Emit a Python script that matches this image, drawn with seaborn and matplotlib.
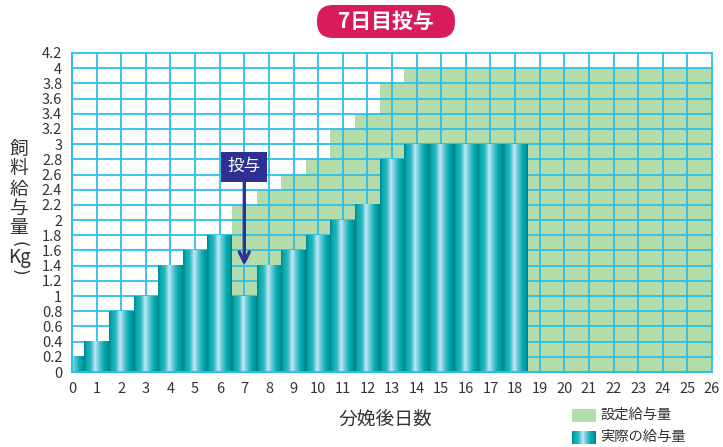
import numpy as np
import pandas as pd
import matplotlib
matplotlib.use("Agg")
import matplotlib.pyplot as plt
import matplotlib.transforms as mtransforms
from matplotlib.patches import FancyBboxPatch, Rectangle
from matplotlib.colors import LinearSegmentedColormap
import seaborn as sns

# ---------------- data ----------------
days = list(range(0, 27))
set_amount = [0.2, 0.4, 0.8, 1.0, 1.4, 1.6, 1.8, 2.2, 2.4, 2.6, 2.8, 3.2, 3.4, 3.8,
              4.0, 4.0, 4.0, 4.0, 4.0, 4.0, 4.0, 4.0, 4.0, 4.0, 4.0, 4.0, 4.0]
actual_days = list(range(0, 19))
actual_amount = [0.2, 0.4, 0.8, 1.0, 1.4, 1.6, 1.8, 1.0, 1.4, 1.6, 1.8, 2.0, 2.2, 2.8,
                 3.0, 3.0, 3.0, 3.0, 3.0]
y_ticks = [round(v * 0.2, 1) for v in range(0, 22)]
title = "7日目投与"
xlabel = "分娩後日数"
ylabel_chars = ["飼", "料", "給", "与", "量", "(", "Kg", ")"]
legend_labels = ["設定給与量", "実際の給与量"]
annot_day, annot_text, annot_value = 7, "投与", 1.4

# ---------------- style ----------------
sns.set_theme(style="white")
plt.rcParams['font.family'] = ['Noto Sans CJK JP', 'DejaVu Sans']

GRID = "#2cbfea"
GREEN = "#b4dcab"
NAVY = "#2e3192"
PINK = "#d81b5c"
TEXT = "#333333"

grad_cmap = LinearSegmentedColormap.from_list("teal", [
    (0.0, "#007f85"), (0.07, "#00a4aa"), (0.28, "#2eb9c3"), (0.45, "#c4e9f7"),
    (0.6, "#62c8d4"), (0.8, "#00abb1"), (0.94, "#00959b"), (1.0, "#007c82")])

fig = plt.figure(figsize=(7.23, 4.47), dpi=100)
ax = fig.add_axes([72 / 723, 1 - 372 / 447, 640 / 723, 319 / 447])

df_set = pd.DataFrame({"day": days, "amount": set_amount})
df_act = pd.DataFrame({"day": actual_days, "amount": actual_amount})

sns.barplot(data=df_set, x="day", y="amount", order=days, width=1.0,
            color=GREEN, saturation=1, linewidth=0, zorder=1, ax=ax)
n_set = len(ax.patches)
sns.barplot(data=df_act, x="day", y="amount", order=days, width=1.0,
            color="#00a8ae", saturation=1, linewidth=0, zorder=2, ax=ax)

grad = np.linspace(0, 1, 256).reshape(1, -1)
for rect in ax.patches[n_set:]:
    h = rect.get_height()
    if not np.isfinite(h) or h <= 0:
        continue
    x0 = rect.get_x()
    w = rect.get_width()
    im = ax.imshow(grad, cmap=grad_cmap, aspect="auto", extent=[x0, x0 + w, 0, h],
                   zorder=2.1, interpolation="bilinear")
    im.set_clip_path(ax.patch)

ax.set_xlim(0, 26)
ax.set_ylim(0, 4.2)
ax.set_xticks(days)
ax.set_xticklabels([str(d) for d in days])
ax.set_yticks(y_ticks)
ax.set_yticklabels([f"{v:g}" for v in y_ticks])
ax.set_xlabel("")
ax.set_ylabel("")

ax.set_axisbelow("line")
ax.grid(True, color=GRID, linewidth=1.3)
for l in ax.get_xgridlines() + ax.get_ygridlines():
    l.set_clip_on(False)

for s in ["top", "right"]:
    ax.spines[s].set_visible(False)
for s in ["left", "bottom"]:
    ax.spines[s].set_color(GRID)
    ax.spines[s].set_linewidth(1.3)
    ax.spines[s].set_zorder(3)
ax.tick_params(axis="both", colors=GRID, length=5, width=1.2, direction="out")
ax.tick_params(axis="y", labelsize=10.5, labelcolor=TEXT, pad=2)
ax.tick_params(axis="x", labelsize=10.5, labelcolor=TEXT, pad=3, length=4)

# annotation
ax.annotate(annot_text, xy=(annot_day, annot_value), xytext=(annot_day, 2.7),
            ha="center", va="center", fontsize=12, color="white", zorder=5,
            bbox=dict(boxstyle="square,pad=0.38", fc=NAVY, ec="none"),
            arrowprops=dict(arrowstyle="->", color=NAVY, lw=2.4, mutation_scale=18,
                            shrinkA=0, shrinkB=0))

# title pill (pixel coordinates)
pix = mtransforms.IdentityTransform()
pill = FancyBboxPatch((317, 447 - 38), 138, 33, boxstyle="round,pad=0,rounding_size=16",
                      transform=pix, fc=PINK, ec="none")
fig.add_artist(pill)
fig.text(386 / 723, 1 - 21 / 447, title, ha="center", va="center", color="white",
         fontsize=15, fontweight="bold")

# x label
fig.text(385 / 723, 1 - 420 / 447, xlabel, ha="center", va="center", color=TEXT,
         fontsize=13.5)

# y label (vertical stacked)
ycent = [149, 169, 189, 208, 227, 244, 258, 272]
for ch, yc in zip(ylabel_chars, ycent):
    rot = -90 if ch in "()" else 0
    fs = 13.5 if ch not in "()" else 12
    fig.text(19 / 723, 1 - yc / 447, ch, ha="center", va="center", color=TEXT,
             fontsize=fs, rotation=rot, family=['DejaVu Sans'] if ch in "()" else None)

# legend
fig.add_artist(Rectangle((572, 447 - 422), 24, 13, transform=pix, fc=GREEN, ec="none"))
fig.text(600 / 723, 1 - 415 / 447, legend_labels[0], ha="left", va="center",
         color=TEXT, fontsize=10.3)
lax = fig.add_axes([572 / 723, 1 - 444 / 447, 24 / 723, 13 / 447])
lax.imshow(grad, cmap=grad_cmap, aspect="auto", interpolation="bilinear")
lax.set_axis_off()
fig.text(600 / 723, 1 - 437 / 447, legend_labels[1], ha="left", va="center",
         color=TEXT, fontsize=10.3)

fig.savefig("out.png", dpi=100)
